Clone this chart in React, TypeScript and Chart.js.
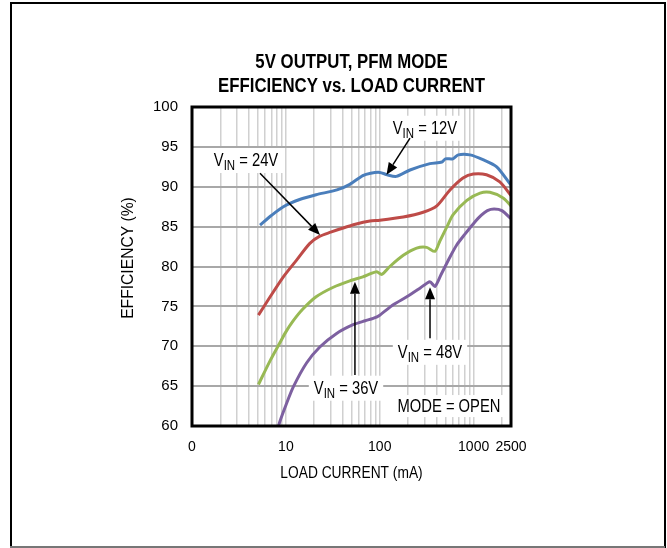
import React, { useEffect, useRef } from "react";
import { Chart, registerables } from "chart.js";

Chart.register(...registerables);

const FONT = '"Liberation Sans", Arial, sans-serif';

const TITLE_LINES = ["5V OUTPUT, PFM MODE", "EFFICIENCY vs. LOAD CURRENT"];
const X_TITLE = "LOAD CURRENT (mA)";
const Y_TITLE = "EFFICIENCY (%)";

const X_MIN = 1;
const X_MAX = 2500;
const Y_MIN = 60;
const Y_MAX = 100;
const Y_STEP = 5;

const X_GRID_VALUES = [
  1, 2, 3, 4, 5, 6, 7, 8, 9,
  10, 20, 30, 40, 50, 60, 70, 80, 90,
  100, 200, 300, 400, 500, 600, 700, 800, 900,
  1000, 2000, 2500,
];
const X_TICK_LABELS: Record<number, string> = { 1: "0", 10: "10", 100: "100", 1000: "1000", 2500: "2500" };

const COLORS = ["#4a7ebb", "#be4b48", "#98b954", "#7d60a0"];

// VIN = 12V
const VIN12_X = [5.3, 7, 9.4, 14, 21, 35, 48, 66, 80, 100, 120, 150, 210, 342, 460, 500, 600, 685, 913, 1256, 1760, 2500];
const VIN12_Y = [85.2, 86.4, 87.5, 88.4, 89.0, 89.6, 90.3, 91.4, 91.7, 91.8, 91.5, 91.3, 92.1, 92.9, 93.1, 93.5, 93.5, 94.0, 94.0, 93.4, 92.5, 90.2];

// VIN = 24V
const VIN24_X = [5.1, 6.8, 9.4, 13, 18, 23, 30, 40, 55, 78.6, 100, 178, 290, 405, 560, 770, 990, 1370, 1900, 2500];
const VIN24_Y = [73.9, 76.2, 78.7, 80.8, 82.9, 83.8, 84.3, 84.8, 85.3, 85.7, 85.8, 86.2, 86.8, 87.6, 89.6, 91.1, 91.6, 91.5, 90.6, 88.9];

// VIN = 36V
const VIN36_X = [5.1, 6.8, 8.6, 10, 12, 15, 21, 32, 48, 66, 80, 93, 105, 128, 178, 247, 316, 387, 437, 520, 605, 846, 1170, 1490, 2060, 2500];
const VIN36_Y = [65.2, 68.2, 70.4, 71.8, 73.2, 74.6, 76.2, 77.4, 78.2, 78.7, 79.1, 79.35, 79.0, 80.0, 81.4, 82.3, 82.4, 81.9, 83.2, 85.0, 86.5, 88.3, 89.2, 89.3, 88.6, 87.6];

// VIN = 48V
const VIN48_X = [8.0, 8.6, 10, 12, 16.6, 23, 34.7, 52, 70, 85, 100, 139, 194, 270, 342, 387, 450, 560, 660, 800, 1000, 1200, 1400, 1650, 2000, 2500];
const VIN48_Y = [59.2, 60.5, 62.6, 64.9, 67.9, 69.9, 71.6, 72.7, 73.2, 73.5, 73.9, 75.2, 76.2, 77.3, 78.1, 77.5, 79.0, 81.2, 82.7, 84.0, 85.4, 86.4, 87.0, 87.2, 87.0, 86.0];

const SERIES = [
  { name: "VIN = 12V", xs: VIN12_X, ys: VIN12_Y },
  { name: "VIN = 24V", xs: VIN24_X, ys: VIN24_Y },
  { name: "VIN = 36V", xs: VIN36_X, ys: VIN36_Y },
  { name: "VIN = 48V", xs: VIN48_X, ys: VIN48_Y },
];

// annotation labels, anchored in data coordinates (mA, %)
const VIN_LABELS = [
  { rest: " = 12V", x: 303, y: 97.4, from: [210, 96.1], to: [118, 91.5] },
  { rest: " = 24V", x: 3.76, y: 93.35, from: [5.3, 91.7], to: [23.1, 83.95] },
  { rest: " = 36V", x: 43.7, y: 64.8, from: [54.4, 66.4], to: [54.4, 78.1] },
  { rest: " = 48V", x: 343, y: 69.3, from: [343, 71.0], to: [343, 77.4] },
];
const MODE_LABEL = { text: "MODE = OPEN", x: 546, y: 62.5 };

const W = 667;
const H = 548;
const NARROW = 0.82;

export default function App() {
  const ref = useRef<HTMLCanvasElement | null>(null);

  useEffect(() => {
    const canvas = ref.current;
    if (!canvas) return;

    const decor = {
      id: "decor",
      beforeDraw(chart: any) {
        const ctx = chart.ctx;
        ctx.save();
        ctx.fillStyle = "#fff";
        ctx.fillRect(0, 0, W, H);
        ctx.strokeStyle = "#000";
        ctx.lineWidth = 2;
        ctx.beginPath();
        ctx.moveTo(11, H);
        ctx.lineTo(11, 3);
        ctx.lineTo(665, 3);
        ctx.lineTo(665, H);
        ctx.stroke();
        ctx.strokeStyle = "#777";
        ctx.beginPath();
        ctx.moveTo(10, 547);
        ctx.lineTo(665, 547);
        ctx.stroke();
        ctx.restore();
      },
      afterDatasetsDraw(chart: any) {
        const ctx = chart.ctx;
        const xs = chart.scales.x;
        const ys = chart.scales.y;
        const a = chart.chartArea;

        // narrow text helper: draws text horizontally condensed, anchored at (x, y)
        const nText = (text: string, x: number, y: number, font: string, align: "left" | "center", sx = NARROW) => {
          ctx.save();
          ctx.font = font;
          ctx.textAlign = align;
          ctx.textBaseline = "alphabetic";
          ctx.translate(x, y);
          ctx.scale(sx, 1);
          ctx.fillText(text, 0, 0);
          ctx.restore();
        };
        const nWidth = (text: string, font: string, sx = NARROW) => {
          ctx.save();
          ctx.font = font;
          const w = ctx.measureText(text).width * sx;
          ctx.restore();
          return w;
        };

        ctx.save();
        // plot border
        ctx.strokeStyle = "#000";
        ctx.lineWidth = 3;
        ctx.strokeRect(a.left, a.top, a.right - a.left, a.bottom - a.top);

        ctx.fillStyle = "#000";
        const cx = (a.left + a.right) / 2;
        // title
        nText(TITLE_LINES[0], cx, 68, `bold 20px ${FONT}`, "center", 0.84);
        nText(TITLE_LINES[1], cx, 92, `bold 20px ${FONT}`, "center", 0.84);

        // axis titles
        nText(X_TITLE, cx, 478, `17px ${FONT}`, "center", 0.81);
        ctx.save();
        ctx.translate(133, 258);
        ctx.rotate(-Math.PI / 2);
        nText(Y_TITLE, 0, 0, `17px ${FONT}`, "center", 0.92);
        ctx.restore();

        const arrow = (x1: number, y1: number, x2: number, y2: number) => {
          const ang = Math.atan2(y2 - y1, x2 - x1);
          const hl = 12;
          const hw = 5;
          const bx = x2 - hl * Math.cos(ang);
          const by = y2 - hl * Math.sin(ang);
          ctx.strokeStyle = "#000";
          ctx.lineWidth = 1.5;
          ctx.beginPath();
          ctx.moveTo(x1, y1);
          ctx.lineTo(bx, by);
          ctx.stroke();
          ctx.fillStyle = "#000";
          ctx.beginPath();
          ctx.moveTo(x2, y2);
          ctx.lineTo(bx + hw * Math.sin(ang), by - hw * Math.cos(ang));
          ctx.lineTo(bx - hw * Math.sin(ang), by + hw * Math.cos(ang));
          ctx.closePath();
          ctx.fill();
        };

        const F = `18px ${FONT}`;
        const FS = `14px ${FONT}`;
        VIN_LABELS.forEach((l) => {
          const px = xs.getPixelForValue(l.x);
          const py = ys.getPixelForValue(l.y);
          const wV = nWidth("V", F);
          const wR = nWidth(l.rest, F);
          const wI = nWidth("IN", FS);
          const tw = wV + wI + wR;
          const left = px - tw / 2;
          ctx.fillStyle = "#fff";
          ctx.fillRect(left - 5, py - 12, tw + 10, 25);
          ctx.fillStyle = "#000";
          nText("V", left, py + 6, F, "left");
          nText("IN", left + wV, py + 10, FS, "left");
          nText(l.rest, left + wV + wI, py + 6, F, "left");
          arrow(
            xs.getPixelForValue(l.from[0]), ys.getPixelForValue(l.from[1]),
            xs.getPixelForValue(l.to[0]), ys.getPixelForValue(l.to[1])
          );
        });

        // mode label
        const mx = xs.getPixelForValue(MODE_LABEL.x);
        const my = ys.getPixelForValue(MODE_LABEL.y);
        const mw = nWidth(MODE_LABEL.text, F);
        ctx.fillStyle = "#fff";
        ctx.fillRect(mx - mw / 2 - 4, my - 11, mw + 8, 22);
        ctx.fillStyle = "#000";
        nText(MODE_LABEL.text, mx, my + 6, F, "center");
        ctx.restore();
      },
    };

    const chart = new Chart(canvas, {
      type: "line",
      data: {
        datasets: SERIES.map((s, i) => ({
          label: s.name,
          data: s.xs.map((x, j) => ({ x, y: s.ys[j] })),
          borderColor: COLORS[i],
          backgroundColor: COLORS[i],
          borderWidth: 3,
          pointRadius: 0,
          tension: 0.25,
          fill: false,
        })),
      },
      options: {
        animation: false,
        responsive: false,
        events: [],
        layout: { padding: { top: 107, right: 156, left: 0, bottom: 0 } },
        plugins: {
          legend: { display: false },
          tooltip: { enabled: false },
          title: { display: false },
        },
        scales: {
          x: {
            type: "logarithmic",
            min: X_MIN,
            max: X_MAX,
            afterBuildTicks: (scale: any) => {
              scale.ticks = X_GRID_VALUES.map((v) => ({ value: v }));
            },
            afterFit: (scale: any) => {
              scale.height = H - 426;
            },
            ticks: {
              autoSkip: false,
              maxRotation: 0,
              minRotation: 0,
              padding: 13,
              color: "#000",
              font: { family: FONT, size: 14 },
              callback: (v: any) => X_TICK_LABELS[Number(v)] ?? "",
            },
            grid: { color: "#d0d0d0", lineWidth: 1.5, drawTicks: false },
            border: { display: false },
          },
          y: {
            type: "linear",
            min: Y_MIN,
            max: Y_MAX,
            afterFit: (scale: any) => {
              scale.width = 192;
            },
            ticks: {
              stepSize: Y_STEP,
              padding: 14,
              color: "#000",
              font: { family: FONT, size: 15 },
            },
            grid: { color: "#a8a8a8", lineWidth: 2, drawTicks: false },
            border: { display: false },
          },
        },
      },
      plugins: [decor],
    } as any);

    return () => chart.destroy();
  }, []);

  return (
    <div style={{ position: "absolute", left: 0, top: 0, width: W, height: H }}>
      <canvas ref={ref} width={W} height={H} style={{ display: "block", width: W, height: H }} />
    </div>
  );
}
